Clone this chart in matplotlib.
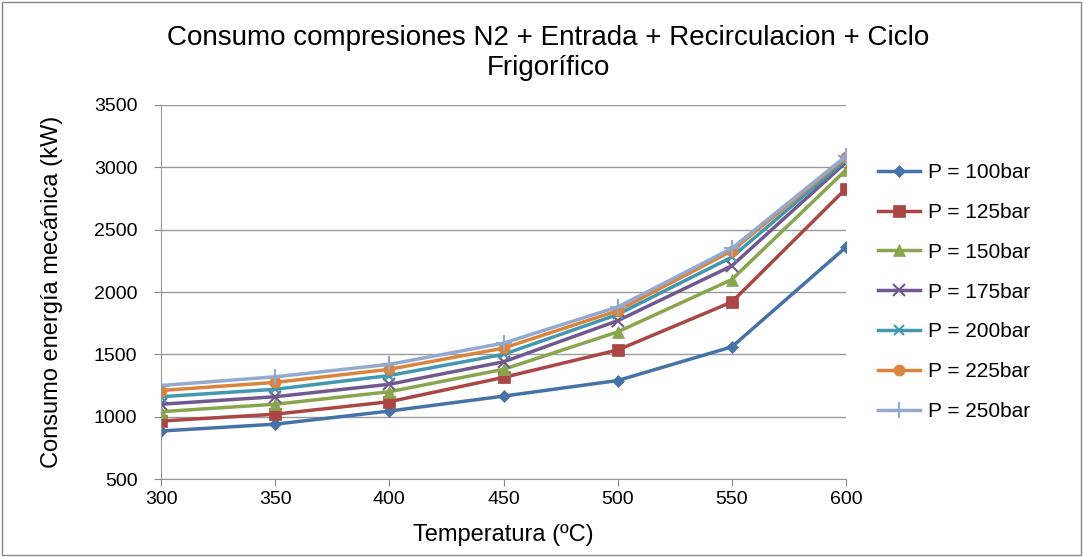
import matplotlib.pyplot as plt

# Temperatures (x axis) and mechanical energy consumption per pressure level
temperatures = [300, 350, 400, 450, 500, 550, 600]

p100 = [885, 940, 1045, 1165, 1290, 1560, 2360]
p125 = [965, 1020, 1120, 1315, 1535, 1920, 2830]
p150 = [1040, 1100, 1200, 1380, 1680, 2100, 2980]
p175 = [1100, 1160, 1260, 1440, 1770, 2210, 3040]
p200 = [1160, 1220, 1330, 1500, 1820, 2280, 3060]
p225 = [1210, 1275, 1380, 1550, 1850, 2330, 3080]
p250 = [1250, 1320, 1420, 1590, 1880, 2350, 3090]

labels = ["P = 100bar", "P = 125bar", "P = 150bar", "P = 175bar",
          "P = 200bar", "P = 225bar", "P = 250bar"]
series = [p100, p125, p150, p175, p200, p225, p250]
colors = ["#4572A7", "#AA4643", "#89A54E", "#71588F",
          "#4198AF", "#DB843D", "#93A9CF"]
markers = ["D", "s", "^", "x", "x", "o", "+"]
marker_sizes = [6, 8, 8, 8, 7, 8, 12]

plt.rcParams["font.family"] = ["Liberation Sans", "DejaVu Sans"]

fig = plt.figure(figsize=(10.83, 5.57), dpi=100)
ax = fig.add_axes([0.1487, 0.140, 0.6325, 0.6715])

for vals, lab, col, mk, ms in zip(series, labels, colors, markers, marker_sizes):
    ax.plot(temperatures, vals, color=col, linewidth=2.5, marker=mk,
            markersize=ms, markeredgewidth=1.5 if mk in ("x", "+") else 0.5,
            markeredgecolor=col, label=lab)

ax.set_xlim(300, 600)
ax.set_ylim(500, 3500)
ax.set_xticks(temperatures)
ax.set_yticks(range(500, 3501, 500))
ax.tick_params(labelsize=14, color="#888888", length=5)
ax.tick_params(axis="y", pad=12)
ax.grid(axis="y", color="#999999", linewidth=1)
ax.set_axisbelow(True)
for side in ("top", "right"):
    ax.spines[side].set_visible(False)
for side in ("left", "bottom"):
    ax.spines[side].set_color("#999999")

ax.set_xlabel("Temperatura (ºC)", fontsize=17, labelpad=12)
ax.set_ylabel("Consumo energía mecánica (kW)", fontsize=17, labelpad=22)
fig.suptitle("Consumo compresiones N2 + Entrada + Recirculacion + Ciclo\nFrigorífico",
             fontsize=20, x=0.506, y=0.955)

ax.legend(loc="center left", bbox_to_anchor=(1.02, 0.5), frameon=False,
          fontsize=15, labelspacing=1.0, handlelength=2.0, handletextpad=0.4)

# outer chart border
fig.patches.append(plt.Rectangle((0.002, 0.003), 0.996, 0.994, transform=fig.transFigure,
                                 fill=False, edgecolor="#888888", linewidth=1))

fig.savefig("out.png", dpi=100)
